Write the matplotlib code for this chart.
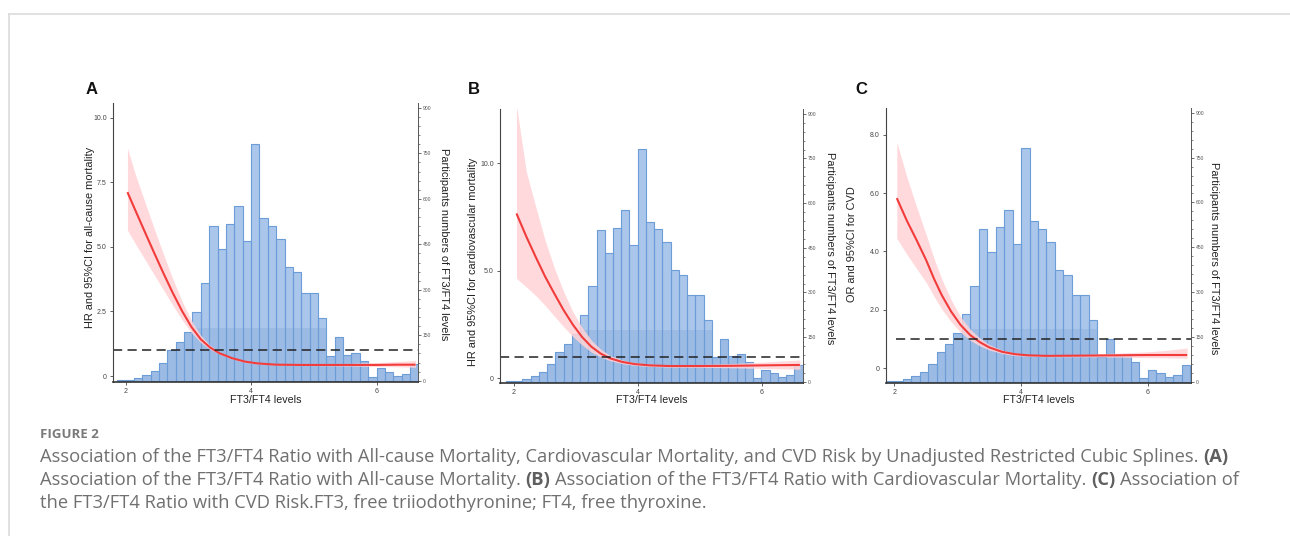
import numpy as np
import matplotlib.pyplot as plt
from matplotlib.lines import Line2D

# ── Data ────────────────────────────────────────────────────────────────────
# histogram of FT3/FT4 (same participants in all three panels)
bin_start = 1.867
bin_width = 0.1333
participants = [4, 4, 10, 19, 32, 60, 101, 128, 162, 226, 321, 510, 434, 518,
                576, 461, 781, 538, 512, 468, 374, 358, 290, 290, 208, 82, 143,
                85, 93, 66, 12, 41, 30, 16, 23, 57]

# A: all-cause mortality (HR)
x_a = [2.03, 2.15, 2.30, 2.45, 2.60, 2.75, 2.90, 3.05, 3.20, 3.35, 3.50,
       3.70, 3.90, 4.10, 4.40, 4.80, 5.20, 5.60, 6.00, 6.30, 6.62]
hr_a = [7.12, 6.45, 5.62, 4.80, 4.00, 3.23, 2.52, 1.90, 1.42, 1.10, 0.88,
        0.69, 0.56, 0.49, 0.44, 0.43, 0.43, 0.43, 0.43, 0.44, 0.44]
lo_a = [5.65, 5.15, 4.55, 3.95, 3.35, 2.75, 2.18, 1.68, 1.29, 1.03, 0.84,
        0.66, 0.53, 0.47, 0.42, 0.41, 0.40, 0.39, 0.37, 0.36, 0.34]
hi_a = [8.83, 7.85, 6.80, 5.75, 4.75, 3.78, 2.90, 2.15, 1.57, 1.18, 0.93,
        0.72, 0.59, 0.51, 0.46, 0.46, 0.47, 0.49, 0.52, 0.56, 0.60]

# B: cardiovascular mortality (HR)
x_b = [2.04, 2.20, 2.35, 2.50, 2.65, 2.80, 2.95, 3.10, 3.25, 3.40, 3.55,
       3.75, 3.95, 4.20, 4.50, 5.00, 5.50, 6.00, 6.30, 6.62]
hr_b = [7.67, 6.59, 5.65, 4.75, 3.95, 3.18, 2.50, 1.92, 1.47, 1.15, 0.93,
        0.76, 0.66, 0.60, 0.57, 0.57, 0.58, 0.60, 0.61, 0.62]
lo_b = [4.65, 4.25, 3.85, 3.40, 2.90, 2.40, 1.95, 1.55, 1.22, 0.99, 0.82,
        0.68, 0.60, 0.55, 0.52, 0.51, 0.49, 0.46, 0.44, 0.42]
hi_b = [12.7, 9.60, 8.00, 6.45, 5.15, 4.05, 3.10, 2.37, 1.77, 1.36, 1.06,
        0.85, 0.73, 0.66, 0.62, 0.64, 0.68, 0.75, 0.80, 0.85]

# C: CVD risk (OR)
x_c = [2.04, 2.20, 2.35, 2.50, 2.63, 2.75, 2.90, 3.05, 3.20, 3.35, 3.50,
       3.70, 3.90, 4.10, 4.40, 5.00, 5.50, 6.00, 6.30, 6.62]
hr_c = [5.83, 5.05, 4.40, 3.72, 3.05, 2.50, 1.93, 1.47, 1.13, 0.89, 0.71,
        0.56, 0.48, 0.44, 0.42, 0.43, 0.44, 0.45, 0.45, 0.45]
lo_c = [4.45, 3.90, 3.42, 2.95, 2.45, 2.02, 1.58, 1.22, 0.95, 0.76, 0.62,
        0.50, 0.43, 0.41, 0.39, 0.39, 0.38, 0.36, 0.35, 0.34]
hi_c = [7.75, 6.55, 5.55, 4.60, 3.75, 3.05, 2.33, 1.75, 1.33, 1.03, 0.80,
        0.62, 0.52, 0.47, 0.46, 0.47, 0.51, 0.56, 0.61, 0.69]

panels = [
    dict(letter="A", x=x_a, hr=hr_a, lo=lo_a, hi=hi_a,
         ylabel="HR and 95%CI for all-cause mortality",
         yticks=[0, 2.5, 5.0, 7.5, 10.0], yticklabels=["0", "2.5", "5.0", "7.5", "10.0"],
         ylim=(-0.23, 10.57), xlim=(1.80, 6.66), dash_x0=1.80),
    dict(letter="B", x=x_b, hr=hr_b, lo=lo_b, hi=hi_b,
         ylabel="HR and 95%CI for cardiovascular mortality",
         yticks=[0, 5.0, 10.0], yticklabels=["0", "5.0", "10.0"],
         ylim=(-0.22, 12.53), xlim=(1.774, 6.67), dash_x0=1.774),
    dict(letter="C", x=x_c, hr=hr_c, lo=lo_c, hi=hi_c,
         ylabel="OR and 95%CI for CVD",
         yticks=[0, 2.0, 4.0, 6.0, 8.0], yticklabels=["0", "2.0", "4.0", "6.0", "8.0"],
         ylim=(-0.51, 8.92), xlim=(1.87, 6.68), dash_x0=2.02),
]
count_ticks = [0, 150, 300, 450, 600, 750, 900]

# ── Layout (pixels of a 1290x536 canvas) ─────────────────────────────────────
W, H = 1290, 536
boxes = [(113, 103, 418, 382), (500, 109, 803, 383), (886, 108, 1191, 383)]
letter_xy = [(91.5, 89), (473.5, 89), (861, 89)]
ylab_xy = [(90, 237), (473, 262), (852, 244)]
rlab_xy = [(444, 244), (830, 248), (1214, 258)]
xlab_y = 400

BAR_FACE = "#aac6ea"
BAR_LOW = "#9cbbe4"
BAR_EDGE = "#6d9dd9"
RED = "#f23c3c"
PINK = "#ffd3d6"
TXT = "#222222"
SANS = ["Liberation Sans", "DejaVu Sans"]

fig = plt.figure(figsize=(W / 100, H / 100), dpi=100, facecolor="white")


def fx(px):
    return px / W


def fy(py):
    return 1 - py / H


edges = bin_start + bin_width * np.arange(len(participants))

for p, (l, t, r, b), lxy, ylxy, rlxy in zip(panels, boxes, letter_xy, ylab_xy, rlab_xy):
    rect = [fx(l), fy(b), fx(r) - fx(l), fy(t) - fy(b)]

    # histogram axis (right)
    ax_h = fig.add_axes(rect)
    ax_h.bar(edges, participants, width=bin_width, align="edge",
             color=BAR_FACE, linewidth=0)
    ax_h.bar(edges, np.minimum(participants, 175), width=bin_width, align="edge",
             color=BAR_LOW, linewidth=0)
    ax_h.bar(edges, participants, width=bin_width, align="edge",
             facecolor="none", edgecolor=BAR_EDGE, linewidth=0.8)
    ax_h.set_xlim(*p["xlim"])
    ax_h.set_ylim(-4, 916)
    ax_h.yaxis.tick_right()
    ax_h.set_yticks(count_ticks)
    ax_h.set_yticklabels([str(v) for v in count_ticks])
    ax_h.set_yticks(np.arange(0, 901, 30), minor=True)
    ax_h.tick_params(axis="y", which="major", length=2.5, width=0.6, colors="#555555",
                     labelsize=3.6, pad=1)
    ax_h.tick_params(axis="y", which="minor", length=1.3, width=0.5, colors="#555555")
    ax_h.set_xticks([])
    for side in ["top", "left", "bottom"]:
        ax_h.spines[side].set_visible(False)
    ax_h.spines["right"].set_color("#555555")
    ax_h.spines["right"].set_linewidth(0.7)

    # spline axis (left), drawn on top
    ax = fig.add_axes(rect, facecolor="none")
    ax.fill_between(p["x"], p["lo"], p["hi"], color=PINK, alpha=0.85, lw=0)
    ax.plot(p["x"], p["hr"], color=RED, lw=1.5, solid_capstyle="butt",
            solid_joinstyle="round")
    ax.hlines(1.0, p["dash_x0"], p["xlim"][1], colors="#222222",
              linestyles=(0, (6, 3.5)), lw=1.1)
    ax.set_xlim(*p["xlim"])
    ax.set_ylim(*p["ylim"])
    ax.set_xticks([2, 4, 6])
    ax.set_xticklabels(["2", "4", "6"])
    ax.set_yticks(p["yticks"])
    ax.set_yticklabels(p["yticklabels"])
    ax.tick_params(length=2.5, width=0.6, colors="#444444", labelsize=5, pad=2)
    for side in ["top", "right"]:
        ax.spines[side].set_visible(False)
    ax.spines["left"].set_color("#444444")
    ax.spines["left"].set_linewidth(0.8)
    ax.spines["bottom"].set_color("#333333")
    ax.spines["bottom"].set_linewidth(1.2)
    for lab in ax.get_xticklabels() + ax.get_yticklabels() + ax_h.get_yticklabels():
        lab.set_family(SANS)

    # labels
    fig.text(fx((l + r) / 2), fy(xlab_y), "FT3/FT4 levels", ha="center", va="center",
             fontsize=7.7, color=TXT, family=SANS)
    fig.text(fx(ylxy[0]), fy(ylxy[1]), p["ylabel"], ha="center", va="center",
             rotation=90, fontsize=7.9, color=TXT, family=SANS)
    fig.text(fx(rlxy[0]), fy(rlxy[1]), "Participants numbers of FT3/FT4 levels",
             ha="center", va="center", rotation=-90, fontsize=7.9, color=TXT, family=SANS)
    fig.text(fx(lxy[0]), fy(lxy[1]), p["letter"], ha="center", va="center",
             fontsize=12, fontweight="bold", color="#111111", family=SANS)

# ── Frame lines ──────────────────────────────────────────────────────────────
fig.add_artist(Line2D([fx(9), 1], [fy(14), fy(14)], color="#dcdcdc", lw=1.2))
fig.add_artist(Line2D([fx(9), fx(9)], [fy(14), 0], color="#dcdcdc", lw=1.2))

# ── Caption ──────────────────────────────────────────────────────────────────
CAP = ["Open Sans", "DejaVu Sans"]
CAP_COL = "#707070"
renderer = fig.canvas.get_renderer()

line1 = [("Association of the FT3/FT4 Ratio with All-cause Mortality, Cardiovascular "
          "Mortality, and CVD Risk by Unadjusted Restricted Cubic Splines.", False),
         ("(A)", True)]
line2 = [("Association of the FT3/FT4 Ratio with All-cause Mortality.", False),
         ("(B)", True),
         ("Association of the FT3/FT4 Ratio with Cardiovascular Mortality.", False),
         ("(C)", True),
         ("Association of", False)]
line3 = [("the FT3/FT4 Ratio with CVD Risk.FT3, free triiodothyronine; FT4, free thyroxine.",
          False)]


def text_width(s, fs, bold):
    t = fig.text(0, 0, s, fontsize=fs, family=CAP, fontweight="bold" if bold else "normal")
    w = t.get_window_extent(renderer).width
    t.remove()
    return w


# size the caption so that line 1 spans the same width as in the original
fs0 = 12
w1 = sum(text_width(s, fs0, b) for s, b in line1) + text_width("a a", fs0, False) - text_width("aa", fs0, False)
cap_fs = fs0 * (1227 - 40) / w1
space = text_width("a a", cap_fs, False) - text_width("aa", cap_fs, False)


def draw_runs(runs, x0, y_base):
    x = x0
    for s, bold in runs:
        fig.text(fx(x), fy(y_base), s, fontsize=cap_fs, family=CAP, va="baseline",
                 fontweight="bold" if bold else "normal",
                 color="#5f5f5f" if bold else CAP_COL)
        x += text_width(s, cap_fs, bold) + space


fig.text(fx(40), fy(437.5), "FIGURE 2", fontsize=9.5, family=CAP, fontweight="bold",
         color="#7a7a7a", va="baseline")
draw_runs(line1, 40, 461.7)
draw_runs(line2, 40, 485)
draw_runs(line3, 40, 507.7)

fig.savefig("out.png", dpi=100, facecolor="white")
